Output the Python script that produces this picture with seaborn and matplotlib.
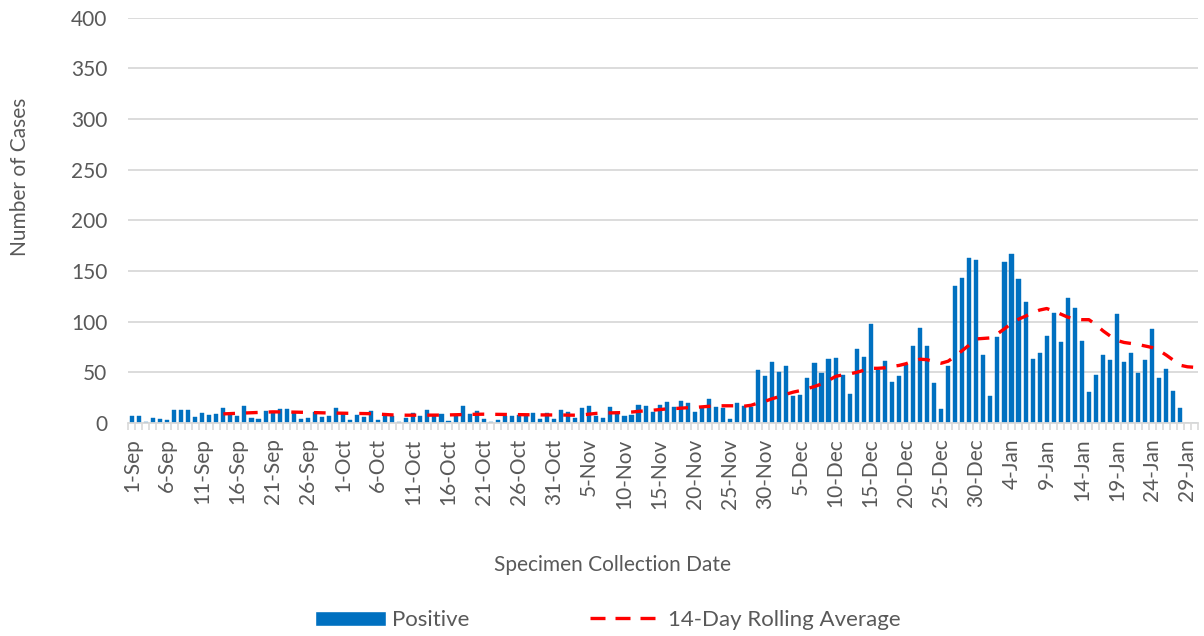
import numpy as np
import pandas as pd
import matplotlib
matplotlib.use('Agg')
import matplotlib.pyplot as plt
import seaborn as sns
from matplotlib.patches import Patch
from matplotlib.lines import Line2D

# daily categories, 1-Sep to 30-Jan
dates = pd.date_range('2020-09-01', '2021-01-30', freq='D')
day_labels = [f'{d.day}-{d:%b}' for d in dates]

# positive cases per specimen collection date
positive = [7, 7, 1, 5, 4, 3, 13, 13, 13, 6,
            10, 8, 9, 15, 9, 7, 17, 5, 4, 12,
            11, 14, 14, 11, 4, 5, 11, 6, 7, 15,
            10, 3, 8, 6, 12, 3, 7, 7, 1, 5,
            10, 7, 13, 8, 9, 2, 7, 17, 9, 12,
            4, 1, 3, 7, 7, 8, 7, 10, 4, 10,
            4, 13, 11, 5, 15, 17, 7, 5, 16, 11,
            7, 8, 18, 17, 11, 18, 21, 16, 22, 20,
            11, 15, 24, 16, 15, 4, 20, 17, 16, 52,
            46, 60, 50, 56, 27, 28, 44, 59, 49, 63,
            64, 47, 29, 73, 65, 98, 52, 61, 40, 46,
            57, 76, 94, 76, 39, 14, 56, 135, 143, 163,
            161, 67, 27, 85, 159, 167, 142, 119, 63, 69,
            86, 109, 80, 123, 114, 81, 31, 47, 67, 62,
            108, 60, 69, 49, 62, 93, 44, 53, 32, 15,
            0, 0]

# 14-day rolling average, starts on 14-Sep
rolling_start = 13
rolling_avg = [9.0, 9.3, 9.6, 10.0, 10.3, 10.5, 10.8, 11.0, 11.0, 10.9,
               10.8, 10.6, 10.4, 10.2, 10.0, 9.9, 9.8, 9.7, 9.6, 9.4,
               9.3, 9.2, 8.8, 8.3, 8.0, 7.8, 7.7, 7.7, 7.7, 7.7,
               7.7, 7.8, 8.0, 8.2, 8.3, 8.5, 8.6, 8.7, 8.6, 8.4,
               8.3, 8.2, 8.1, 8.0, 8.0, 8.0, 8.0, 8.0, 7.9, 7.8,
               7.7, 8.0, 8.8, 9.5, 9.8, 10.0, 10.2, 10.3, 10.8, 11.5,
               12.0, 12.6, 13.3, 13.9, 14.2, 14.7, 15.1, 15.4, 15.9, 16.5,
               17.0, 17.0, 17.0, 17.0, 16.6, 17.5, 19.8, 21.5, 24.0, 26.0,
               28.5, 30.5, 32.0, 34.0, 36.0, 38.5, 42.0, 46.0, 47.5, 48.5,
               50.0, 52.0, 54.0, 54.0, 54.5, 55.8, 56.8, 58.5, 61.0, 63.0,
               62.5, 60.5, 59.0, 61.0, 66.0, 71.5, 77.0, 83.0, 83.5, 84.0,
               88.0, 93.0, 98.5, 102.5, 105.5, 109.0, 111.5, 113.0, 110.5, 107.5,
               104.5, 102.5, 102.0, 102.0, 97.0, 91.0, 86.0, 81.5, 79.5, 78.5,
               77.5, 76.0, 74.5, 71.5, 67.0, 62.0, 57.0, 55.5, 55.0]

bar_color = '#0070C0'
line_color = '#FF0000'
text_color = '#595959'
grid_color = '#D9D9D9'
dash = (0, (3.5, 3.3))

sns.set_theme(style='white')
plt.rcParams['font.family'] = ['Lato', 'DejaVu Sans']

fig = plt.figure(figsize=(12.04, 6.36), dpi=100)
ax = fig.add_axes([0.1066, 0.3349, 0.8884, 0.6371])

df = pd.DataFrame({'Date': day_labels, 'Positive': positive})
sns.barplot(data=df, x='Date', y='Positive', color=bar_color, saturation=1,
            width=0.58, edgecolor=bar_color, linewidth=0.3, ax=ax)

roll_x = np.arange(rolling_start, rolling_start + len(rolling_avg))
sns.lineplot(x=roll_x, y=rolling_avg, color=line_color, lw=2.4,
             linestyle=dash, ax=ax)

# axes styling
ax.set_ylim(0, 400)
ax.set_yticks(range(0, 401, 50))
ax.set_xlim(-0.5, len(positive) - 0.5)
ax.grid(axis='y', color=grid_color, lw=1.3)
ax.set_axisbelow(True)
for side in ['left', 'top', 'right']:
    ax.spines[side].set_visible(False)
ax.spines['bottom'].set_color(grid_color)
ax.spines['bottom'].set_linewidth(1.3)

ax.set_xticks(range(0, len(positive), 5))
ax.set_xticklabels(day_labels[::5], rotation=90)
ax.set_xticks(np.arange(-0.5, len(positive), 1), minor=True)
ax.tick_params(axis='x', which='major', length=0, pad=11, labelsize=15,
               labelcolor=text_color)
ax.tick_params(axis='x', which='minor', length=5, width=1.2, color=grid_color,
               direction='out', bottom=True)
ax.tick_params(axis='y', length=0, pad=15, labelsize=15, labelcolor=text_color)
ax.set_xlabel('')
ax.set_ylabel('')

fig.text(613 / 1204, 1 - 565 / 636, 'Specimen Collection Date', ha='center',
         va='center', fontsize=15, color=text_color)
fig.text(20 / 1204, 1 - 177 / 636, 'Number of Cases', ha='center', va='center',
         rotation=90, fontsize=15, color=text_color)

# legend
handles = [Patch(facecolor=bar_color),
           Line2D([0], [0], color=line_color, lw=2.4, linestyle=(0, (4.5, 3)))]
fig.legend(handles, ['Positive', '14-Day Rolling Average'], loc='center',
           bbox_to_anchor=(0.5045, 0.025), ncol=2, frameon=False, fontsize=16,
           handlelength=3.2, handleheight=0.7, columnspacing=5.4,
           handletextpad=0.3, labelcolor=text_color)

fig.savefig('out.png', dpi=100)
